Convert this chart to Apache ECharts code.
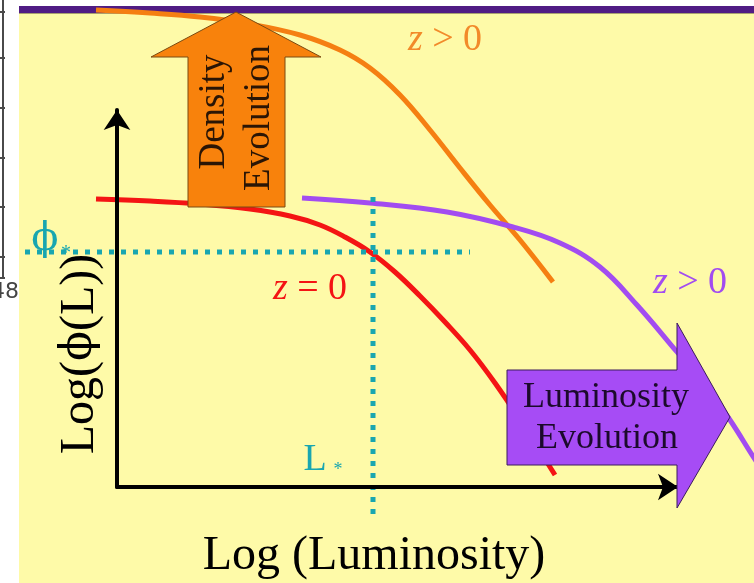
<!DOCTYPE html>
<html>
<head>
<meta charset="utf-8">
<script src="https://cdn.jsdelivr.net/npm/echarts@6/dist/echarts.min.js"></script>
<style>html,body{margin:0;padding:0;background:#fff}#c{width:754px;height:583px}</style>
</head>
<body>
<div id="c"></div>
<script>
// ---- data (log L on x, log phi on y, arbitrary units) ----
const redX = [-0.42, 0.66, 1.66, 2.66, 3.46, 4.06, 4.56, 5.06, 5.56, 6.06, 6.56, 7.06, 7.56, 8.06, 8.76];
const redY = [5.76, 5.72, 5.66, 5.56, 5.42, 5.24, 5.00, 4.70, 4.30, 3.82, 3.30, 2.74, 2.08, 1.34, 0.24];
const orangeX = [-0.42, 0.66, 1.66, 2.66, 3.66, 4.46, 5.06, 5.66, 6.26, 6.86, 7.46, 8.06, 8.72];
const orangeY = [9.54, 9.48, 9.40, 9.26, 9.04, 8.74, 8.38, 7.84, 7.14, 6.38, 5.64, 4.94, 4.10];
const purpleX = [3.70, 5.06, 6.60, 7.92, 8.86, 9.66, 10.40, 11.20, 11.76, 12.26, 12.74, 12.94];
const purpleY = [5.78, 5.68, 5.50, 5.20, 4.88, 4.40, 3.64, 2.70, 2.04, 1.34, 0.58, 0.28];
const phiStar = 4.70;
const LStar = 5.12;
const phiLineX = [-1.84, 7.06];
const LLineY = [5.80, -0.56];
const labels = {
  xTitle: 'Log (Luminosity)',
  yTitle: 'Log({p|\u03D5}(L))',
  z0: '{i|z} = 0',
  zpos: '{i|z} > 0',
  density: ['Density', 'Evolution'],
  lum: ['Luminosity', 'Evolution']
};

const zip = (xs, ys) => xs.map((x, i) => [x, ys[i]]);
const SERIF = '"Liberation Serif", "DejaVu Serif", serif';
const PHI = '"DejaVu Serif", serif';
const teal = '#19A6B0';

const chart = echarts.init(document.getElementById('c'), null, {renderer: 'canvas'});

function txt(text, x, y, size, color, rot, fam) {
  const f = fam || SERIF;
  const el = {
    type: 'text', z: 20, x: x, y: y,
    style: {
      text: text, x: 0, y: 0, font: size + 'px ' + f, fill: color,
      textAlign: 'center', textVerticalAlign: 'middle', align: 'center', verticalAlign: 'middle',
      rich: {
        i: { fontStyle: 'italic', fontSize: size, fontFamily: SERIF, fill: color, color: color },
        p: { fontSize: size * 0.92, fontFamily: PHI, fill: color, color: color }
      }
    }
  };
  if (rot) el.rotation = Math.PI / 2;
  return el;
}

const tableLines = [12, 58, 108, 158, 207, 257, 278].map(y => ({
  type: 'line', z: 1, shape: {x1: 0, y1: y, x2: 5, y2: y}, style: {stroke: '#4a4a4a', lineWidth: 2}
}));

const option = {
  backgroundColor: '#ffffff',
  animation: false,
  grid: [
    {left: 0, right: 0, top: 0, bottom: 0, containLabel: false},
    {left: 117, right: 76, top: 110, bottom: 96, containLabel: false}
  ],
  xAxis: [
    {gridIndex: 0, type: 'value', min: -2.34, max: 12.74, show: false},
    {gridIndex: 1, type: 'value', min: 0, max: 1, z: 5,
     axisLine: {show: true, onZero: false, symbol: ['none', 'arrow'], symbolSize: [20, 20], lineStyle: {color: '#000', width: 4}},
     axisTick: {show: false}, axisLabel: {show: false}, splitLine: {show: false}}
  ],
  yAxis: [
    {gridIndex: 0, type: 'value', min: -1.92, max: 9.74, show: false},
    {gridIndex: 1, type: 'value', min: 0, max: 1, z: 5,
     axisLine: {show: true, onZero: false, symbol: ['none', 'arrow'], symbolSize: [20, 20], lineStyle: {color: '#000', width: 4}},
     axisTick: {show: false}, axisLabel: {show: false}, splitLine: {show: false}}
  ],
  series: [
    {type: 'line', name: 'z=0', data: zip(redX, redY), smooth: 0.4, symbol: 'none',
     lineStyle: {color: '#F41414', width: 5}, z: 3},
    {type: 'line', name: 'density', data: zip(orangeX, orangeY), smooth: 0.4, symbol: 'none',
     lineStyle: {color: '#F57F12', width: 5}, z: 3},
    {type: 'line', name: 'luminosity', data: zip(purpleX, purpleY), smooth: 0.4, symbol: 'none',
     lineStyle: {color: '#A24CF0', width: 5}, z: 3},
    {type: 'line', name: 'phiStar', data: phiLineX.map(x => [x, phiStar]), symbol: 'none',
     lineStyle: {color: teal, width: 5, type: [5, 7]}, z: 4},
    {type: 'line', name: 'LStar', data: LLineY.map(y => [LStar, y]), symbol: 'none',
     lineStyle: {color: teal, width: 5, type: [5, 7]}, z: 4}
  ],
  graphic: {
    elements: [
      {type: 'line', z: 1, shape: {x1: 3, y1: 0, x2: 3, y2: 278}, style: {stroke: '#4a4a4a', lineWidth: 2}},
      ...tableLines,
      {type: 'text', z: 1, x: 19, y: 292, style: {text: '48', x: 0, y: 0, font: '22px "DejaVu Sans", sans-serif', fill: '#444',
        textAlign: 'right', textVerticalAlign: 'middle', align: 'right', verticalAlign: 'middle'}},
      {type: 'rect', z: 1, shape: {x: 19, y: 6, width: 735, height: 577}, style: {fill: '#FEFAA8'}},
      {type: 'rect', z: 1, shape: {x: 19, y: 6, width: 735, height: 7}, style: {fill: '#501C84'}},
      {type: 'rect', z: 1, shape: {x: 19, y: 13, width: 735, height: 1}, style: {fill: '#A8A070'}},
      // density evolution arrow
      {type: 'polygon', z: 10, shape: {points: [[236, 12], [321, 57], [285, 57], [285, 207], [188, 207], [188, 57], [151, 57]]},
       style: {fill: '#F8820C', stroke: '#7a4a10', lineWidth: 1}},
      // luminosity evolution arrow
      {type: 'polygon', z: 10, shape: {points: [[507, 370], [677, 370], [677, 323], [730, 417], [677, 508], [677, 465], [507, 465]]},
       style: {fill: '#A64CF5', stroke: '#3c1c5c', lineWidth: 1}},
      txt(labels.density[0], 214, 112, 37, '#2a1505', true),
      txt(labels.density[1], 259, 118, 37, '#2a1505', true),
      txt(labels.lum[0], 606, 398, 36, '#1c0a2c'),
      txt(labels.lum[1], 607, 439, 36, '#1c0a2c'),
      txt(labels.zpos, 445, 40, 38, '#F28A2A'),
      txt(labels.z0, 310, 289, 38, '#F41414'),
      txt(labels.zpos, 690, 283, 38, '#A24CF0'),
      txt(labels.xTitle, 374, 556, 48, '#000'),
      txt(labels.yTitle, 80, 354, 48, '#000', true),
      txt('\u03D5', 45, 240, 40, teal, false, PHI),
      txt('*', 66, 254, 20, teal),
      txt('L', 315, 460, 38, teal),
      txt('*', 338, 470, 18, teal)
    ]
  }
};
chart.setOption(option);
</script>
</body>
</html>
